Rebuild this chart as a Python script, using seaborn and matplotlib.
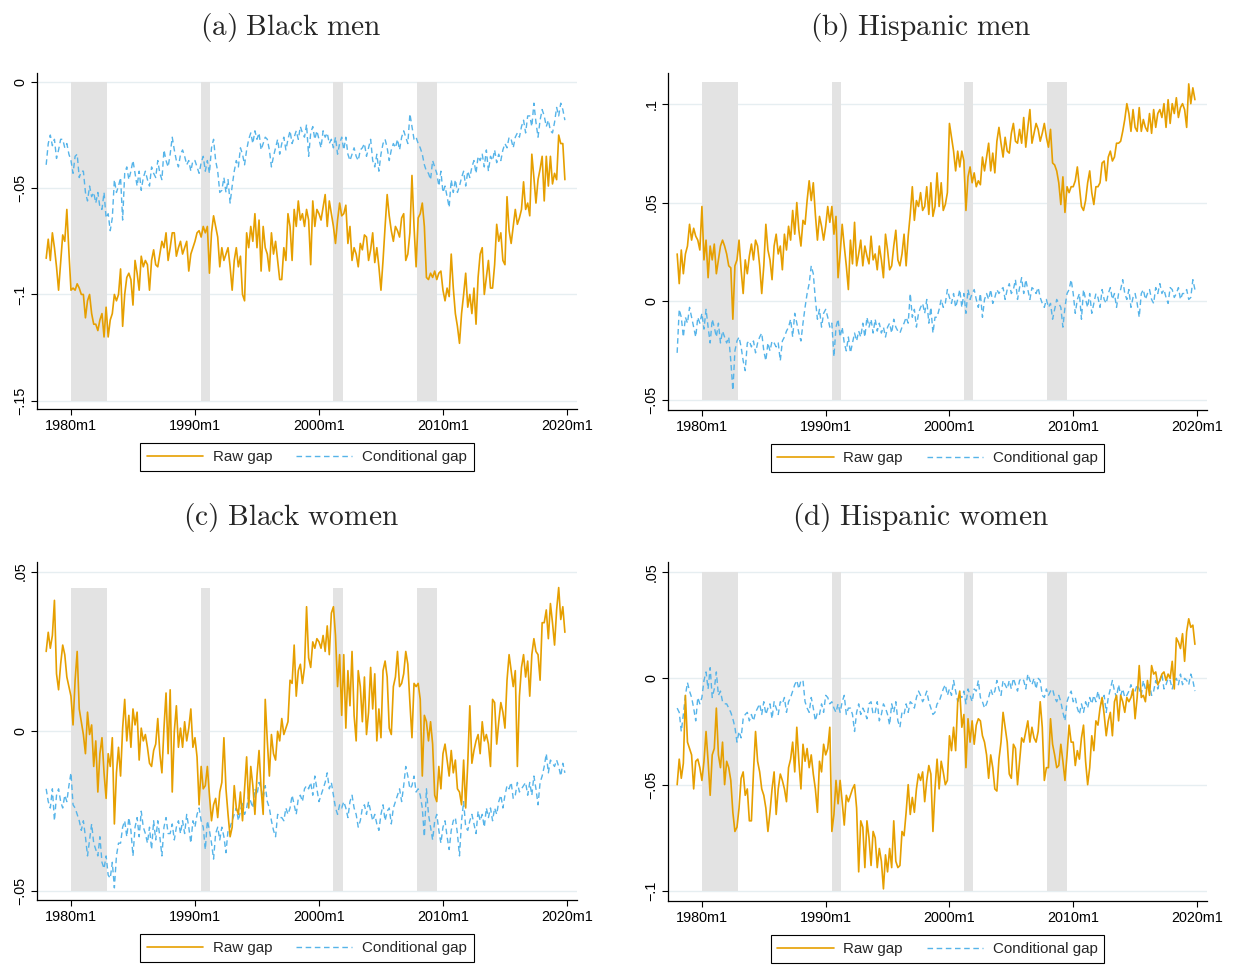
import numpy as np
import pandas as pd
import matplotlib
matplotlib.use("Agg")
import matplotlib.pyplot as plt
from matplotlib.lines import Line2D
import seaborn as sns

# ---------------------------------------------------------------------------
# Wage gaps relative to white workers of the same sex, bi-monthly
# observations from 1978m1 to 2019m11 (six per year), in thousandths.
# ---------------------------------------------------------------------------
bm_raw = np.array([
    -83, -74, -84, -71, -78, -87,   -98, -85, -72, -75, -60, -80,
    -98, -97, -98, -95, -97, -100,  -100, -111, -103, -100, -109, -114,
    -114, -117, -112, -109, -120, -106,  -120, -112, -109, -100, -103, -100,
    -88, -115, -100, -92, -90, -93,  -105, -84, -90, -98, -82, -87,
    -84, -86, -98, -84, -79, -86,   -87, -81, -75, -78, -71, -84,
    -78, -71, -71, -82, -78, -75,   -81, -78, -75, -89, -81, -78,
    -75, -71, -70, -73, -68, -71,   -68, -90, -71, -63, -68, -73,
    -87, -78, -84, -81, -78, -87,   -98, -84, -78, -87, -82, -100,
    -103, -71, -78, -68, -75, -62,  -78, -65, -89, -68, -78, -81,
    -89, -71, -81, -75, -84, -93,   -93, -78, -84, -62, -68, -84,
    -60, -68, -56, -65, -62, -68,   -60, -65, -86, -56, -68, -60,
    -62, -65, -59, -53, -68, -56,   -62, -68, -76, -65, -57, -63,
    -62, -58, -76, -68, -84, -78,   -81, -87, -76, -79, -72, -73,
    -84, -79, -71, -85, -78, -87,   -98, -84, -68, -53, -63, -70,
    -75, -68, -70, -73, -64, -62,   -84, -81, -71, -44, -68, -87,
    -64, -62, -57, -68, -92, -93,   -90, -92, -89, -93, -90, -89,
    -98, -103, -97, -101, -81, -97,  -109, -115, -123, -109, -100, -90,
    -106, -100, -109, -97, -114, -92,  -81, -78, -100, -92, -84, -97,
    -97, -86, -67, -75, -71, -84,   -86, -54, -70, -76, -68, -60,
    -67, -64, -60, -47, -60, -57,   -63, -34, -45, -57, -46, -41,
    -35, -56, -35, -49, -35, -48,   -43, -46, -25, -29, -29, -46,
]) / 1000

bm_cond = np.array([
    -39, -29, -25, -30, -27, -36,   -32, -27, -27, -31, -29, -34,
    -37, -43, -35, -34, -45, -42,   -42, -52, -56, -49, -54, -52,
    -57, -52, -59, -60, -52, -64,   -62, -70, -64, -46, -52, -49,
    -45, -65, -43, -40, -46, -42,   -37, -43, -49, -42, -51, -45,
    -42, -46, -49, -40, -43, -45,   -37, -43, -46, -32, -37, -40,
    -34, -26, -32, -37, -40, -34,   -32, -35, -39, -37, -42, -37,
    -37, -40, -43, -38, -35, -42,   -37, -43, -31, -27, -37, -42,
    -52, -51, -45, -52, -46, -57,   -49, -42, -37, -40, -31, -34,
    -39, -32, -27, -24, -29, -23,   -27, -24, -32, -29, -26, -27,
    -32, -40, -35, -31, -27, -34,   -29, -26, -32, -27, -23, -29,
    -26, -23, -27, -21, -24, -26,   -20, -35, -24, -21, -27, -23,
    -27, -31, -23, -26, -24, -29,   -27, -31, -26, -34, -29, -26,
    -32, -26, -34, -37, -34, -31,   -35, -37, -32, -31, -29, -35,
    -31, -27, -37, -40, -34, -42,   -34, -29, -27, -31, -37, -32,
    -29, -31, -27, -32, -26, -23,   -26, -29, -15, -21, -27, -26,
    -29, -31, -34, -39, -42, -43,   -46, -37, -40, -43, -49, -42,
    -52, -49, -54, -59, -46, -52,   -46, -52, -49, -45, -42, -49,
    -42, -45, -40, -37, -43, -35,   -37, -34, -40, -32, -42, -35,
    -37, -32, -38, -34, -37, -32,   -29, -31, -26, -27, -31, -26,
    -24, -26, -21, -18, -24, -16,   -16, -21, -10, -19, -26, -18,
    -13, -16, -21, -18, -23, -24,   -19, -12, -16, -10, -13, -18,
]) / 1000

hm_raw = np.array([
    24, 9, 26, 14, 24, 28,     39, 31, 37, 33, 31, 26,
    48, 21, 31, 12, 28, 21,    29, 14, 21, 28, 31, 28,
    24, 18, 17, -9, 18, 21,    31, 16, 4, 21, 14, 23,
    29, 21, 31, 28, 18, 4,     18, 39, 26, 21, 11, 28,
    34, 24, 28, 16, 34, 26,    38, 31, 46, 34, 50, 36,
    28, 41, 39, 51, 61, 51,    60, 44, 31, 43, 38, 31,
    38, 48, 40, 48, 34, 43,    12, 24, 39, 28, 18, 6,
    31, 19, 40, 18, 24, 31,    18, 28, 23, 19, 33, 21,
    24, 16, 28, 21, 12, 34,    26, 16, 18, 28, 36, 21,
    18, 24, 34, 18, 33, 44,    58, 41, 51, 48, 55, 46,
    48, 58, 44, 60, 43, 48,    65, 48, 60, 46, 49, 55,
    90, 83, 76, 66, 76, 68,    76, 71, 46, 63, 68, 60,
    65, 58, 61, 59, 73, 66,    73, 80, 66, 75, 65, 81,
    88, 80, 73, 83, 76, 75,    85, 90, 81, 80, 87, 80,
    93, 78, 88, 97, 80, 85,    90, 87, 81, 85, 90, 83,
    78, 87, 70, 69, 66, 60,    49, 63, 45, 58, 55, 58,
    58, 61, 68, 58, 48, 46,    51, 60, 66, 55, 49, 58,
    58, 60, 70, 71, 61, 73,    76, 71, 73, 80, 80, 81,
    86, 92, 100, 95, 86, 97,   88, 86, 98, 86, 92, 88,
    86, 95, 85, 97, 88, 95,    97, 93, 100, 88, 102, 90,
    100, 95, 103, 93, 98, 100, 97, 88, 110, 100, 108, 102,
]) / 1000

hm_cond = np.array([
    -26, -4, -8, -18, -8, -11,   -3, -8, -13, -18, -8, -11,
    -6, -14, -4, -13, -21, -9,   -13, -18, -11, -21, -15, -18,
    -21, -18, -30, -45, -25, -20,  -18, -23, -30, -35, -21, -20,
    -23, -20, -26, -21, -18, -16,  -25, -30, -21, -25, -20, -21,
    -23, -21, -30, -20, -18, -15,  -13, -9, -18, -6, -11, -16,
    -20, -11, -3, 4, 9, 18,      14, 1, -9, -4, -13, -6,
    -4, -8, -13, -11, -28, -13,  -9, -18, -13, -21, -25, -18,
    -26, -21, -16, -20, -15, -18,  -11, -18, -8, -13, -9, -16,
    -9, -15, -11, -16, -13, -18,  -13, -11, -16, -9, -13, -15,
    -16, -13, -11, -8, -11, 4,   -8, -4, -13, -6, -3, -1,
    -6, 1, -11, -3, -16, -8,     -8, -4, 1, -3, -1, 6,
    2, -1, 4, -3, 1, 6,          -3, 4, -6, 6, 1, 4,
    6, 1, -3, 4, -8, 1,          4, 1, 6, -1, 2, 6,
    4, 6, 7, 1, 6, 9,            4, 6, 11, 1, 7, 12,
    4, 11, 6, 1, 7, 6,           4, 7, 2, -1, -3, 1,
    -3, -1, -9, -4, 1, -1,       -3, -13, -3, 4, 6, 11,
    4, -6, 1, 4, -9, 6,          1, -3, 4, -6, -1, 4,
    2, -3, 6, 1, -1, 4,          7, 1, 4, -3, 4, 6,
    11, 4, 1, 6, -3, 2,          4, -1, -8, 4, 6, 1,
    4, 6, 1, -1, 7, 4,           9, 4, 6, 2, -1, 7,
    6, 2, 4, 7, 1, 4,            4, 6, 1, 2, 11, 6,
]) / 1000

bw_raw = np.array([
    25, 31, 26, 30, 41, 18,     13, 21, 27, 24, 17, 14,
    11, 2, 16, 25, 7, 3,        -1, -7, 6, -1, 2, -11,
    -3, -19, -7, -2, -13, -21,  -7, -11, -2, -29, -13, -5,
    -14, 1, 10, -3, 5, -5,      7, 2, 6, -9, 1, -3,
    -1, -5, -10, -11, -6, -4,   4, -7, -13, 1, 12, -7,
    13, -19, 0, 8, -5, 1,       -5, 3, -3, 1, 7, -5,
    -2, -8, -23, -11, -18, -17, -11, -20, -28, -23, -21, -27,
    -19, -16, -2, -18, -26, -33, -30, -17, -24, -26, -19, -28,
    -18, -8, -24, -11, -17, -26, -14, -6, -18, -26, 10, -3,
    -14, -1, -7, -9, 0, -3,     4, -1, 1, 3, 16, 15,
    27, 11, 19, 21, 15, 20,     39, 23, 20, 28, 26, 29,
    28, 26, 30, 25, 33, 24,     37, 39, 30, 14, 24, 5,
    24, 1, 19, 8, 25, 5,        -3, 19, 14, 3, 17, -1,
    6, 20, 7, 18, -3, 7,        -2, 19, 22, 17, 1, -1,
    14, 17, 25, 14, 15, 18,     25, 21, 9, -2, 15, 14,
    15, 10, -14, 5, 3, -3,      3, -4, -20, -22, -11, -18,
    -7, -4, -9, -14, -6, -13,   -9, -18, -19, -23, -9, -24,
    -10, 8, -10, -6, -3, -1,    -7, 3, -3, -1, -4, -11,
    10, 9, -4, 3, 9, 6,         1, 16, 24, 19, 14, 19,
    -11, 11, 20, 24, 17, 22,    11, 24, 29, 25, 24, 16,
    34, 34, 38, 29, 40, 34,     27, 38, 45, 35, 39, 31,
]) / 1000

bw_cond = np.array([
    -18, -22, -24, -18, -28, -20,  -18, -22, -24, -20, -22, -17,
    -13, -23, -24, -26, -28, -31,  -28, -33, -39, -34, -29, -35,
    -37, -39, -33, -41, -43, -39,  -45, -46, -41, -49, -39, -35,
    -35, -30, -28, -33, -27, -31,  -39, -30, -27, -33, -25, -30,
    -32, -35, -30, -37, -28, -34,  -28, -33, -39, -30, -27, -32,
    -32, -29, -34, -30, -28, -32,  -28, -32, -26, -30, -35, -28,
    -30, -26, -24, -28, -30, -37,  -28, -31, -35, -40, -32, -30,
    -34, -30, -33, -38, -31, -30,  -28, -26, -24, -28, -25, -22,
    -26, -24, -20, -22, -24, -18,  -20, -16, -18, -21, -17, -22,
    -24, -28, -31, -33, -26, -27,  -27, -28, -24, -26, -24, -20,
    -23, -26, -21, -20, -22, -18,  -17, -18, -16, -20, -14, -18,
    -22, -20, -18, -16, -13, -18,  -16, -20, -24, -26, -23, -24,
    -22, -24, -27, -22, -20, -24,  -26, -30, -28, -24, -23, -26,
    -22, -25, -28, -26, -29, -31,  -26, -23, -28, -25, -24, -29,
    -24, -22, -20, -18, -22, -17,  -11, -14, -18, -17, -14, -19,
    -18, -20, -24, -33, -18, -26,  -30, -34, -28, -26, -31, -35,
    -30, -28, -33, -37, -31, -28,  -27, -32, -39, -28, -22, -30,
    -31, -28, -26, -29, -32, -25,  -28, -26, -30, -24, -27, -24,
    -28, -24, -26, -22, -20, -24,  -20, -17, -18, -16, -21, -20,
    -16, -19, -18, -17, -16, -20,  -16, -20, -14, -18, -23, -16,
    -14, -11, -7, -13, -9, -10,    -11, -9, -11, -14, -10, -13,
]) / 1000

hw_raw = np.array([
    -50, -38, -47, -40, -8, -30,   -33, -36, -52, -39, -38, -42,
    -48, -39, -25, -39, -55, -36,  -33, -14, -36, -42, -30, -50,
    -39, -42, -48, -63, -72, -70,  -61, -47, -44, -55, -52, -67,
    -67, -44, -25, -39, -44, -52,  -55, -61, -72, -63, -52, -44,
    -64, -52, -45, -48, -52, -58,  -42, -38, -30, -44, -23, -39,
    -52, -31, -39, -33, -42, -36,  -45, -52, -63, -39, -44, -31,
    -36, -33, -23, -72, -64, -48,  -59, -48, -58, -69, -55, -58,
    -55, -52, -50, -61, -91, -67,  -70, -89, -67, -75, -88, -72,
    -75, -89, -80, -86, -99, -83,  -91, -80, -89, -67, -86, -89,
    -88, -72, -74, -63, -50, -64,  -56, -63, -52, -45, -48, -44,
    -58, -48, -41, -45, -72, -52,  -38, -52, -39, -44, -50, -48,
    -27, -34, -23, -34, -11, -6,   -23, -17, -42, -19, -30, -20,
    -31, -22, -19, -20, -27, -30,  -36, -47, -36, -42, -52, -53,
    -38, -30, -16, -23, -30, -45,  -47, -31, -33, -50, -39, -28,
    -30, -25, -20, -30, -23, -28,  -30, -25, -11, -23, -48, -42,
    -42, -19, -31, -36, -42, -41,  -31, -39, -48, -36, -22, -30,
    -30, -41, -34, -38, -28, -22,  -39, -50, -42, -27, -34, -20,
    -22, -14, -9, -17, -27, -20,   -16, -27, -11, -8, -20, -8,
    -11, -16, -9, -11, -9, -5,     -19, -9, 6, -9, -8, -11,
    -1, -8, 6, 2, 3, -3,           -1, 2, 3, -1, 2, 0,
    8, -5, 19, 17, 14, 21,         8, 22, 28, 24, 25, 16,
]) / 1000

hw_cond = np.array([
    -14, -16, -25, -17, -8, -2,    -6, -9, -14, -20, -9, -12,
    -9, -1, 3, -5, 5, -9,          -5, 3, -8, -6, -11, -12,
    -12, -14, -16, -19, -23, -30,  -25, -28, -19, -17, -16, -20,
    -17, -20, -16, -14, -12, -17,  -11, -17, -14, -12, -19, -11,
    -14, -17, -11, -12, -9, -16,   -11, -9, -6, -3, -1, -5,
    -1, -1, -11, -14, -16, -9,     -14, -20, -16, -17, -12, -16,
    -8, -9, -12, -11, -14, -16,    -12, -16, -11, -8, -17, -14,
    -14, -17, -25, -16, -12, -17,  -14, -16, -19, -12, -11, -17,
    -16, -11, -20, -17, -12, -14,  -17, -22, -12, -16, -11, -20,
    -23, -16, -17, -12, -16, -11,  -12, -14, -9, -6, -8, -11,
    -9, -6, -11, -14, -17, -16,    -12, -11, -8, -5, -3, -8,
    -5, -8, -1, -6, -11, -8,       -9, -6, -12, -5, -8, -11,
    -5, -6, -1, -9, -11, -14,      -12, -9, -5, -8, -6, -1,
    -5, -8, -1, -3, -5, -1,        -5, 0, -3, -6, -1, 0,
    -1, -5, 2, -1, -3, 0,          -5, 0, -1, -8, -9, -5,
    -8, -6, -5, -9, -11, -8,       -11, -16, -20, -11, -8, -6,
    -11, -9, -14, -17, -12, -16,   -11, -14, -9, -12, -8, -11,
    -6, -11, -12, -8, -16, -9,     -5, -1, -6, -9, -3, -8,
    -5, -9, -8, -6, -3, -8,        -6, -3, -5, -8, -1, -5,
    -5, -3, -8, -6, -1, -5,        -1, 2, -5, -3, 0, -1,
    -5, -1, 0, -3, 2, -3,          0, -1, -3, 2, -1, -6,
]) / 1000

series_labels = ["Raw gap", "Conditional gap"]
panel_titles = ["(a) Black men", "(b) Hispanic men",
                "(c) Black women", "(d) Hispanic women"]

# NBER recessions (first and last month)
rec_start = ["1980m1", "1990m7", "2001m3", "2007m12"]
rec_end = ["1982m11", "1991m3", "2001m11", "2009m6"]

xtick_years = [1980, 1990, 2000, 2010, 2020]
xtick_labels = ["1980m1", "1990m1", "2000m1", "2010m1", "2020m1"]

yticks = [
    ([0, -0.05, -0.10, -0.15], ["0", "\u2212.05", "\u2212.1", "\u2212.15"]),
    ([-0.05, 0, 0.05, 0.10], ["\u2212.05", "0", ".05", ".1"]),
    ([-0.05, 0, 0.05], ["\u2212.05", "0", ".05"]),
    ([-0.10, -0.05, 0, 0.05], ["\u2212.1", "\u2212.05", "0", ".05"]),
]


def ym(s):
    y, m = s.split("m")
    return int(y) + (int(m) - 1) / 12


months = np.arange(len(bm_raw)) * 2
dates = 1978 + months / 12

data = [(bm_raw, bm_cond), (hm_raw, hm_cond), (bw_raw, bw_cond), (hw_raw, hw_cond)]

# ---------------------------------------------------------------------------
# Styling and layout
# ---------------------------------------------------------------------------
sns.set_style("ticks")
plt.rcParams["font.family"] = ["Liberation Sans", "DejaVu Sans"]
plt.rcParams["mathtext.fontset"] = "cm"

ORANGE = "#E69F00"
BLUE = "#56B4E9"
SHADE = "#e3e3e3"
GRID = "#e6eef1"
DASH = (0, (4, 2.6))

W, H = 1233, 965
fig = plt.figure(figsize=(W / 100, H / 100), dpi=100)

# axes boxes in pixels: left, top, right, bottom
boxes = [(37, 73, 577, 409), (668, 73, 1207, 410),
         (37, 562, 577, 900), (668, 562, 1207, 901)]
ylims = [(-0.1539, 0.0042), (-0.0549, 0.1155), (-0.0528, 0.0530), (-0.1047, 0.0547)]
shade_spans = [(-0.15, 0.0), (-0.05, 0.111), (-0.05, 0.045), (-0.10, 0.05)]
title_pos = [(291, 27.8), (921, 27.8), (291, 517.8), (921, 517.8)]
xlim = (1977.26, 2020.81)

for i, ((raw, cond), box) in enumerate(zip(data, boxes)):
    l, t, r, b = box
    ax = fig.add_axes([l / W, 1 - b / H, (r - l) / W, (b - t) / H])
    ax.set_axisbelow(True)

    lo, hi = shade_spans[i]
    for s, e in zip(rec_start, rec_end):
        ax.fill_betweenx([lo, hi], ym(s), ym(e) + 1 / 12, color=SHADE,
                         linewidth=0, zorder=1)

    df = pd.DataFrame({"date": dates, "raw": raw, "cond": cond})
    sns.lineplot(data=df, x="date", y="raw", ax=ax, color=ORANGE,
                 linewidth=1.2, zorder=3)
    sns.lineplot(data=df, x="date", y="cond", ax=ax, color=BLUE,
                 linewidth=1.0, linestyle=DASH, zorder=2)

    ax.set_xlim(*xlim)
    ax.set_ylim(*ylims[i])
    ax.set_xlabel("")
    ax.set_ylabel("")
    ax.set_xticks(xtick_years)
    ax.set_xticklabels(xtick_labels)
    ax.set_yticks(yticks[i][0])
    ax.set_yticklabels(yticks[i][1], rotation=90, va="center")
    ax.tick_params(axis="both", length=4, width=0.8, labelsize=10.4,
                   color="black", labelcolor="black")
    ax.tick_params(axis="y", pad=3)
    ax.tick_params(axis="x", pad=3.5)
    ax.yaxis.grid(True, color=GRID, linewidth=1.0)
    ax.xaxis.grid(False)
    sns.despine(ax=ax)
    for sp in ("left", "bottom"):
        ax.spines[sp].set_linewidth(0.9)
        ax.spines[sp].set_color("black")

    handles = [Line2D([], [], color=ORANGE, linewidth=1.2),
               Line2D([], [], color=BLUE, linewidth=1.0, linestyle=DASH)]
    leg = ax.legend(handles, series_labels, loc="upper center",
                    bbox_to_anchor=(0.5, -34 / (b - t)), ncol=2, frameon=True,
                    fancybox=False, edgecolor="black", framealpha=1,
                    fontsize=10.9, handlelength=3.7, handletextpad=0.64,
                    columnspacing=1.6, borderpad=0.45, borderaxespad=0)
    leg.get_frame().set_linewidth(0.8)

    tx, ty = title_pos[i]
    words = panel_titles[i].replace(" ", r"\ ")
    fig.text(tx / W, 1 - ty / H, r"$\mathrm{" + words + "}$",
             ha="center", va="center", fontsize=21.1)

fig.savefig("out.png", dpi=100)
